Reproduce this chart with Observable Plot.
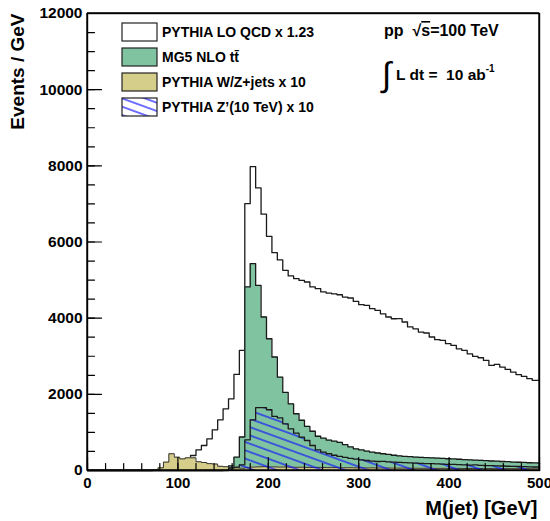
<!DOCTYPE html>
<html>
<head>
<meta charset="utf-8">
<script src="https://cdn.jsdelivr.net/npm/d3@7"></script>
<script src="https://cdn.jsdelivr.net/npm/@observablehq/plot@0.6"></script>
<style>
  html, body { margin: 0; padding: 0; background: #fff; overflow: hidden; }
  #wrap { position: relative; width: 550px; height: 521px; }
  #chart { position: absolute; left: 0; top: 0; width: 550px; height: 521px; }
  #chart svg { display: block; }
  #overlay { position: absolute; left: 0; top: 0; pointer-events: none; }
</style>
</head>
<body>
<svg width="0" height="0" style="position:absolute">
  <defs>
    <pattern id="hatch" patternUnits="userSpaceOnUse" width="8" height="7.8" patternTransform="rotate(20)">
      <line x1="-1" y1="3.9" x2="9" y2="3.9" stroke="#1010ff" stroke-width="1.2"/>
    </pattern>
  </defs>
</svg>
<div id="wrap">
  <div id="chart"></div>
  <svg id="overlay" width="550" height="521" viewBox="0 0 550 521">
    <g stroke="#000" stroke-width="1.4" fill="none">
      <line x1="87" y1="13" x2="539" y2="13"/>
      <line x1="539" y1="13" x2="539" y2="470"/>
      <line x1="87" y1="13" x2="87" y2="470"/>
      <line x1="87" y1="470" x2="539" y2="470"/>
    </g>
  </svg>
</div>
<script>
// ---- data (bins of 6 GeV starting at 0; last bin clipped at 500) ----
const binLow = d3.range(0, 500, 6); // 84 bins: 0,6,...,498
const xMax = 500;

const qcd = [
  0,0,0,0,0,0,0,0,0,0,0,0,
  10,30,60,100,140,190,270,394,543,657,832,1068,1331,1620,1883,2522,3153,
  7010,7980,7420,6730,6150,5720,5530,
  5255,5110,5040,4990,4950,4820,4775,4690,4660,4640,4615,4555,4530,4440,4355,4335,
  4250,4205,4115,4030,3985,3990,3900,3770,3720,3635,3610,3505,3435,3415,3330,3285,
  3195,3155,3065,2995,2960,2890,2760,2785,2715,2655,2585,2520,2470,2410,2365,2365
];

const ttbar = [
  0,0,0,0,0,0,0,0,0,0,0,0,0,0,0,0,0,0,0,0,0,0,0,0,0,
  10,120,350,880,4820,5430,4860,4030,3460,2980,2450,2050,1750,1490,1320,1160,1030,
  900,850,800,770,740,680,620,570,540,510,482,460,440,422,400,386,370,362,352,347,
  338,333,325,320,309,304,296,286,281,271,266,259,250,246,236,231,222,217,211,203,199,195
];

const wzjets = [
  0,0,0,0,0,0,0,0,0,0,0,0,0,
  70,220,440,350,306,333,333,230,210,180,170,110,100,75,70,60,75,90,95,100,95,95,90,
  92,88,85,86,82,80,82,78,76,77,74,72,73,70,70,68,69,66,65,66,63,62,63,60,60,58,59,
  57,56,57,55,54,55,53,52,53,51,50,51,49,48,49,47,47,46,46,45,45
];

const zprime = [
  0,0,0,0,0,0,0,0,0,0,0,0,0,0,0,0,0,0,0,0,0,0,0,0,0,0,
  60,90,150,806,1330,1650,1650,1595,1420,1380,1226,1095,981,876,788,657,
  540,480,440,400,370,345,320,300,280,262,245,236,240,225,218,212,206,200,195,188,
  183,178,172,168,160,163,152,146,142,150,136,130,126,122,118,112,110,105,102,96,92,90
];

const xMajorTicks = [0, 100, 200, 300, 400, 500];
const xMinorTicks = d3.range(0, 501, 20);
const yMajorTicks = [0, 2000, 4000, 6000, 8000, 10000, 12000];
const yMinorTicks = d3.range(0, 12001, 500);

const legendLabels = ["PYTHIA LO QCD x 1.23", "MG5 NLO tt\u0304", "PYTHIA W/Z+jets x 10", "PYTHIA Z\u2019(10 TeV) x 10"];

// ---- build step data ----
function steps(values) {
  const pts = binLow.map((x, i) => ({x, y: values[i]}));
  pts.push({x: xMax, y: values[values.length - 1]});
  return pts;
}

const FONT = "'Liberation Sans', Arial, Helvetica, sans-serif";
const green = "#80c3a0";
const yellow = "#d5cd8a";
const edge = "#1a1a1a";

const tickShape = {draw(context, l) { context.moveTo(0, 0); context.lineTo(0, -l); }};

const plot = Plot.plot({
  width: 550,
  height: 521,
  marginLeft: 87,
  marginRight: 11,
  marginTop: 13,
  marginBottom: 51,
  style: {fontFamily: FONT},
  x: {domain: [0, 500]},
  y: {domain: [0, 12000]},
  marks: [
    Plot.frame({stroke: "#000", strokeWidth: 1.4}),
    Plot.areaY(steps(qcd), {x: "x", y: "y", curve: "step-after", fill: "white"}),
    Plot.lineY(steps(qcd), {x: "x", y: "y", curve: "step-after", stroke: edge, strokeWidth: 1.3}),
    Plot.areaY(steps(ttbar), {x: "x", y: "y", curve: "step-after", fill: green}),
    Plot.lineY(steps(ttbar), {x: "x", y: "y", curve: "step-after", stroke: edge, strokeWidth: 1.3}),
    Plot.areaY(steps(wzjets), {x: "x", y: "y", curve: "step-after", fill: yellow}),
    Plot.lineY(steps(wzjets), {x: "x", y: "y", curve: "step-after", stroke: "#333", strokeWidth: 1}),
    Plot.areaY(steps(zprime), {x: "x", y: "y", curve: "step-after", fill: "url(#hatch)"}),
    Plot.lineY(steps(zprime), {x: "x", y: "y", curve: "step-after", stroke: edge, strokeWidth: 1.3}),
    // ticks drawn inward, ROOT style
    Plot.vector(xMinorTicks, {x: d => d, y: 0, length: 7, rotate: 0, anchor: "start", shape: tickShape, stroke: "black", strokeWidth: 1.2}),
    Plot.vector(xMajorTicks, {x: d => d, y: 0, length: 13, rotate: 0, anchor: "start", shape: tickShape, stroke: "black", strokeWidth: 1.2}),
    Plot.vector(yMinorTicks, {x: 0, y: d => d, length: 7, rotate: 90, anchor: "start", shape: tickShape, stroke: "black", strokeWidth: 1.2}),
    Plot.vector(yMajorTicks, {x: 0, y: d => d, length: 14, rotate: 90, anchor: "start", shape: tickShape, stroke: "black", strokeWidth: 1.2}),
    Plot.axisX({ticks: xMajorTicks, tickSize: 0, tickPadding: 7, fontSize: 15, fontWeight: "bold", tickFormat: d => String(d), label: null}),
    Plot.axisY({ticks: yMajorTicks, tickSize: 0, tickPadding: 5, fontSize: 15.5, fontWeight: "bold", tickFormat: d => String(d), label: null}),
    Plot.text(["M(jet) [GeV]"], {frameAnchor: "bottom-right", textAnchor: "end", dx: -2, dy: 38, fontSize: 20, fontWeight: "bold", lineAnchor: "middle"}),
    Plot.text(["Events / GeV"], {frameAnchor: "top-left", textAnchor: "end", rotate: -90, dx: -70, dy: 0, fontSize: 19, fontWeight: "bold", lineAnchor: "middle"})
  ]
});

document.getElementById("chart").appendChild(plot);

// ---- legend and annotations ----
const svg = d3.select(plot);
const leg = svg.append("g").attr("font-family", FONT).attr("font-weight", "bold").attr("font-size", 14).attr("text-anchor", "start");
const legFills = ["white", green, yellow, "url(#hatch)"];
const rowY = [32, 57, 82, 107];
legendLabels.forEach((lab, i) => {
  leg.append("rect").attr("x", 122).attr("y", rowY[i] - 9).attr("width", 35).attr("height", 18)
    .attr("fill", legFills[i]).attr("stroke", "#222").attr("stroke-width", 1.2);
  leg.append("text").attr("x", 162).attr("y", rowY[i] + 5).text(lab);
});

const ann = svg.append("g").attr("font-family", FONT).attr("font-weight", "bold").attr("text-anchor", "start");
const t1 = ann.append("text").attr("x", 384).attr("y", 36).attr("font-size", 16);
t1.append("tspan").text("pp  \u221A");
t1.append("tspan").attr("text-decoration", "overline").text("s");
t1.append("tspan").text("=100 TeV");
ann.append("text").attr("x", 382).attr("y", 86).attr("font-size", 34).attr("font-weight", "normal").text("\u222B");
const t2 = ann.append("text").attr("x", 396).attr("y", 80).attr("font-size", 15.5);
t2.append("tspan").text("L dt =  10 ab");
t2.append("tspan").attr("dy", -8).attr("font-size", 10).text("-1");
</script>
</body>
</html>
